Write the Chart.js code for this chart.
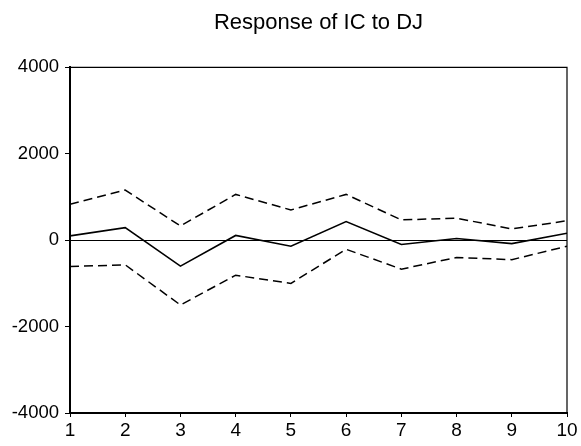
<!DOCTYPE html>
<html>
<head>
<meta charset="utf-8">
<script src="https://cdn.jsdelivr.net/npm/chart.js@4"></script>
<style>
  html, body { margin: 0; padding: 0; background: #fff; }
  #wrap { width: 581px; height: 446px; }
</style>
</head>
<body>
<div id="wrap"><canvas id="irfChart" width="581" height="446"></canvas></div>
<script>
// horizon steps and impulse response values
const periods = [1, 2, 3, 4, 5, 6, 7, 8, 9, 10];
const response = [100, 290, -600, 110, -140, 430, -100, 40, -80, 160];
const upperBand = [830, 1160, 330, 1060, 700, 1060, 470, 510, 260, 450];
const lowerBand = [-610, -570, -1500, -810, -1000, -210, -670, -400, -450, -140];
const yTicks = [-4000, -2000, 0, 2000, 4000];

const toPoints = vals => periods.map((p, i) => ({ x: p, y: vals[i] }));

// box around the plot area (top and right sides)
const frame = {
    id: 'frame',
    afterDraw(chart) {
        const { ctx, chartArea: a } = chart;
        ctx.save();
        ctx.strokeStyle = '#000';
        ctx.lineWidth = 1.2;
        ctx.beginPath();
        ctx.moveTo(a.left, a.top);
        ctx.lineTo(a.right, a.top);
        ctx.lineTo(a.right, a.bottom);
        ctx.stroke();
        ctx.restore();
    }
};

const ctx = document.getElementById('irfChart').getContext('2d');
new Chart(ctx, {
    type: 'line',
    data: {
        datasets: [
            {
                label: 'Response',
                data: toPoints(response),
                borderColor: '#000',
                borderWidth: 1.6,
                pointRadius: 0,
                tension: 0,
                fill: false
            },
            {
                label: '+2 S.E.',
                data: toPoints(upperBand),
                borderColor: '#000',
                borderWidth: 1.5,
                borderDash: [9, 5],
                pointRadius: 0,
                tension: 0,
                fill: false
            },
            {
                label: '-2 S.E.',
                data: toPoints(lowerBand),
                borderColor: '#000',
                borderWidth: 1.5,
                borderDash: [9, 5],
                pointRadius: 0,
                tension: 0,
                fill: false
            }
        ]
    },
    options: {
        responsive: false,
        animation: false,
        devicePixelRatio: 1,
        layout: { padding: { left: 0, right: 14, top: 4, bottom: 0 } },
        plugins: {
            legend: { display: false },
            tooltip: { enabled: false },
            title: {
                display: true,
                text: 'Response of IC to DJ',
                color: '#000',
                fullSize: false,
                font: { family: 'Liberation Sans', size: 22, weight: 'normal' },
                padding: { top: 6, bottom: 31 }
            }
        },
        scales: {
            x: {
                type: 'linear',
                min: 1,
                max: 10,
                afterBuildTicks: s => { s.ticks = periods.map(v => ({ value: v })); },
                afterFit: s => { s.height = 33; },
                ticks: {
                    color: '#000',
                    padding: 2,
                    maxRotation: 0,
                    callback: v => String(v),
                    font: { family: 'Liberation Sans', size: 19 }
                },
                grid: {
                    drawOnChartArea: false,
                    tickColor: '#000',
                    tickLength: 4,
                    lineWidth: 1
                },
                border: { display: true, color: '#000', width: 2 }
            },
            y: {
                min: -4000,
                max: 4000,
                afterBuildTicks: s => { s.ticks = yTicks.map(v => ({ value: v })); },
                afterFit: s => { s.width = 70; },
                ticks: {
                    color: '#000',
                    padding: 6,
                    callback: v => String(v),
                    font: { family: 'Liberation Sans', size: 18.5 }
                },
                grid: {
                    color: c => (c.tick && c.tick.value === 0 ? '#000' : 'rgba(0,0,0,0)'),
                    tickColor: '#000',
                    tickLength: 5,
                    lineWidth: 1
                },
                border: { display: true, color: '#000', width: 2 }
            }
        }
    },
    plugins: [frame]
});
</script>
</body>
</html>
